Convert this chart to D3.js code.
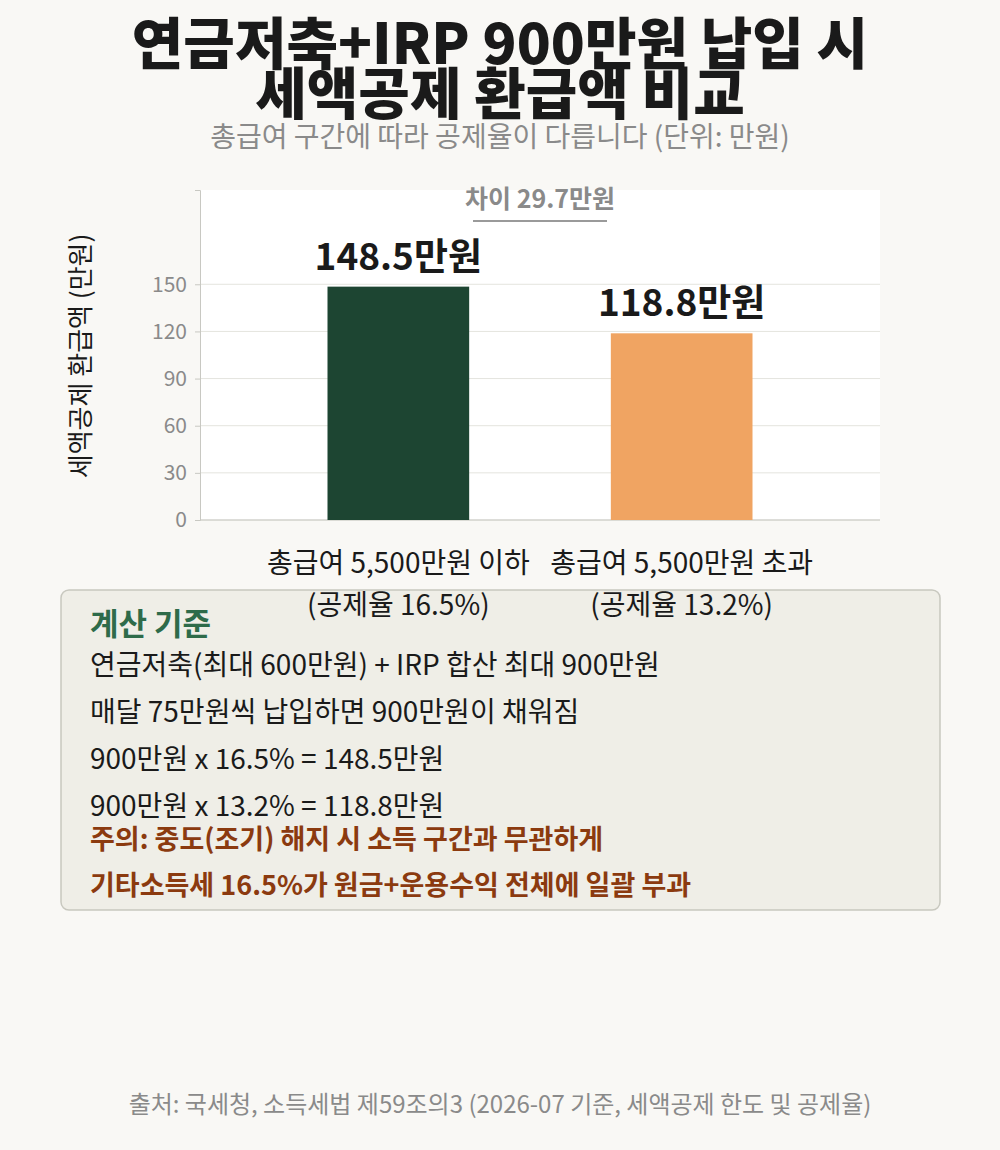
<!DOCTYPE html>
<html><head><meta charset="utf-8">
<script src="https://cdn.jsdelivr.net/npm/d3@7"></script>
<style>body{margin:0;background:#f9f8f5;font-family:"Noto Sans CJK KR","Noto Sans",sans-serif;}</style>
</head><body>
<script>
// chart data
let categories = ['총급여 5,500만원 이하', '총급여 5,500만원 초과'];
let subLabels = ['(공제율 16.5%)', '(공제율 13.2%)'];
let values = [148.5, 118.8];
let colors = ['#1d4532', '#f0a462'];
let yTicks = [0, 30, 60, 90, 120, 150];
let boxLines = ['연금저축(최대 600만원) + IRP 합산 최대 900만원', '매달 75만원씩 납입하면 900만원이 채워짐', '900만원 x 16.5% = 148.5만원', '900만원 x 13.2% = 118.8만원'];
let warnLines = ['주의: 중도(조기) 해지 시 소득 구간과 무관하게', '기타소득세 16.5%가 원금+운용수익 전체에 일괄 부과'];

let svg = d3.select('body').append('svg').attr('width', 1000).attr('height', 1150);
svg.append('rect').attr('width', 1000).attr('height', 1150).attr('fill', '#f9f8f5');

// titles
svg.append('text').attr('x', 500).attr('y', 64).attr('text-anchor', 'middle').attr('font-size', 56).attr('font-weight', 900).attr('fill', '#1a1a1a').text('연금저축+IRP 900만원 납입 시');
svg.append('text').attr('x', 500).attr('y', 114).attr('text-anchor', 'middle').attr('font-size', 56).attr('font-weight', 900).attr('fill', '#1a1a1a').text('세액공제 환급액 비교');
svg.append('text').attr('x', 500).attr('y', 147).attr('text-anchor', 'middle').attr('font-size', 28).attr('fill', '#8a8a8a').text('총급여 구간에 따라 공제율이 다릅니다 (단위: 만원)');

let x = d3.scaleBand().domain(categories).range([200, 880]).paddingInner(0.5).paddingOuter(0.45);
let y = d3.scaleLinear().domain([0, 210]).range([520, 190]);

svg.append('rect').attr('x', 200).attr('y', 190).attr('width', 680).attr('height', 330).attr('fill', '#fff');

svg.append('g').selectAll('line').data(yTicks).enter().append('line')
	.attr('x1', 200).attr('x2', 880)
	.attr('y1', d => y(d)).attr('y2', d => y(d))
	.attr('stroke', '#e4e4de');

let yAxis = svg.append('g').attr('transform', 'translate(200,0)')
	.call(d3.axisLeft(y).tickValues(yTicks).tickSize(5).tickPadding(8));
yAxis.select('.domain').attr('stroke', '#c8c8c2');
yAxis.selectAll('.tick line').attr('stroke', '#c8c8c2');
yAxis.selectAll('text').attr('font-size', 21).attr('fill', '#8a8a8a').attr('font-family', '"Noto Sans CJK KR",sans-serif');

svg.append('line').attr('x1', 200).attr('x2', 880).attr('y1', 520).attr('y2', 520).attr('stroke', '#c8c8c2');

svg.append('text').attr('transform', 'translate(90,356) rotate(-90)').attr('text-anchor', 'middle')
	.attr('font-size', 26).attr('fill', '#1a1a1a').text('세액공제 환급액 (만원)');

// bars
svg.selectAll('.bar').data(values).enter().append('rect')
	.attr('x', (d, i) => x(categories[i])).attr('width', x.bandwidth())
	.attr('y', d => y(d)).attr('height', d => 520 - y(d))
	.attr('fill', (d, i) => colors[i]);

svg.selectAll('.val').data(values).enter().append('text')
	.attr('x', (d, i) => x(categories[i]) + x.bandwidth() / 2)
	.attr('y', d => y(d) - 17).attr('text-anchor', 'middle')
	.attr('font-size', 37).attr('font-weight', 700).attr('fill', '#1a1a1a')
	.text(d => d + '만원');

// difference note
let diff = (values[0] - values[1]).toFixed(1);
svg.append('text').attr('x', 540).attr('y', 208).attr('text-anchor', 'middle').attr('font-size', 25).attr('font-weight', 700).attr('fill', '#8a8a8a').text('차이 ' + diff + '만원');
svg.append('line').attr('x1', 473).attr('x2', 607).attr('y1', 221).attr('y2', 221).attr('stroke', '#9a9a9a').attr('stroke-width', 2);

// x labels
categories.forEach(function(c, i) {
	svg.append('text').attr('x', x(c) + x.bandwidth() / 2).attr('y', 573).attr('text-anchor', 'middle').attr('font-size', 28).attr('fill', '#1a1a1a').text(c);
});

// info box
let info = svg.append('g');
info.append('rect').attr('x', 61).attr('y', 590).attr('width', 879).attr('height', 320).attr('rx', 8)
	.attr('fill', '#efeee7').attr('stroke', '#c8c8bf').attr('stroke-width', 1.5);
info.append('text').attr('x', 90).attr('y', 635).attr('font-size', 31).attr('font-weight', 700).attr('fill', '#2e6b4a').text('계산 기준');
info.selectAll('.l').data(boxLines).enter().append('text')
	.attr('x', 90).attr('y', (d, i) => 675 + i * 47).attr('font-size', 28).attr('fill', '#1a1a1a').text(d => d);
info.selectAll('.w').data(warnLines).enter().append('text')
	.attr('x', 90).attr('y', (d, i) => 849 + i * 46).attr('font-size', 27).attr('font-weight', 700).attr('fill', '#8b3a0f').text(d => d);

// sublabels on top of box
categories.forEach(function(c, i) {
	svg.append('text').attr('x', x(c) + x.bandwidth() / 2).attr('y', 615).attr('text-anchor', 'middle').attr('font-size', 28).attr('fill', '#1a1a1a').text(subLabels[i]);
});

svg.append('text').attr('x', 500).attr('y', 1113).attr('text-anchor', 'middle').attr('font-size', 24).attr('fill', '#8a8a8a').text('출처: 국세청, 소득세법 제59조의3 (2026-07 기준, 세액공제 한도 및 공제율)');
</script>
</body></html>
